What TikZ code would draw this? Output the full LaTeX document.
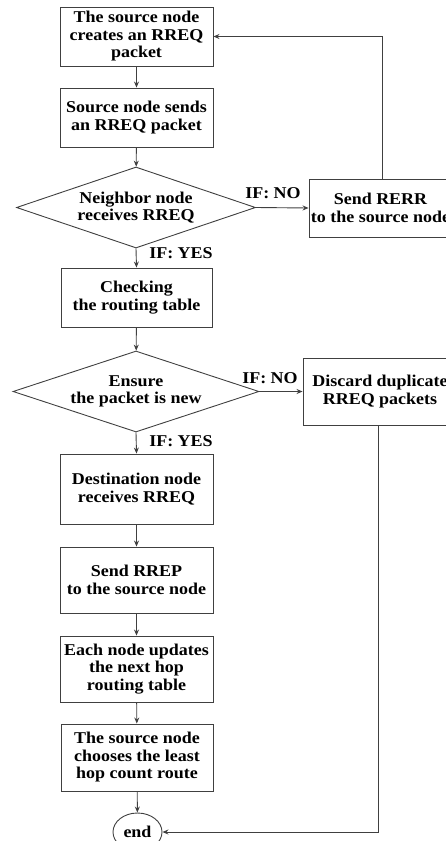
\documentclass[tikz,border=0pt]{standalone}
\usepackage{fontspec}
\setmainfont{Liberation Serif}[FakeStretch=1.09]
\usetikzlibrary{shapes.geometric,arrows.meta}
\begin{document}
\begin{tikzpicture}[x=1pt,y=-1pt,
  every node/.style={font=\bfseries\fontsize{16.5}{17.5}\selectfont, text=black},
  stepbox/.style={draw=black!75, line width=0.9pt, rectangle, inner sep=0pt, align=center},
  decide/.style={draw=black!75, line width=0.9pt, diamond, inner sep=0pt},
  lbl/.style={inner sep=0pt, align=center},
  conn/.style={draw=black!75, line width=0.9pt, -{Stealth[length=6pt,width=5pt]}},
  seg/.style={draw=black!75, line width=0.9pt}]
\useasboundingbox (0,0) rectangle (445,841);
\node[stepbox, minimum width=153pt, minimum height=59pt] (b1) at (136.5,36.5) {The source node\\creates an RREQ\\packet};
\node[stepbox, minimum width=153pt, minimum height=59pt] (b2) at (136.5,117.5) {Source node sends\\an RREQ packet};
\node[decide, minimum width=239pt, minimum height=81pt] (d1) at (136,207.5) {};
\node[lbl] (d1t) at (136,207.5) {Neighbor node\\receives RREQ};
\node[stepbox, minimum width=143pt, minimum height=58pt] (rerr) at (380.5,208) {Send RERR\\to the source node};
\node[stepbox, minimum width=151pt, minimum height=59pt] (b3) at (136.5,297.5) {Checking\\the routing table};
\node[decide, minimum width=246pt, minimum height=81pt] (d2) at (136,391.5) {};
\node[lbl] (d2t) at (136,391.5) {Ensure\\the packet is new};
\node[stepbox, minimum width=154pt, minimum height=67pt] (disc) at (380,391.5) {Discard duplicate\\RREQ packets};
\node[stepbox, minimum width=153pt, minimum height=70pt] (b4) at (136.5,489) {Destination node\\receives RREQ};
\node[stepbox, minimum width=153pt, minimum height=66pt] (b5) at (136.5,580) {Send RREP\\to the source node};
\node[stepbox, minimum width=153pt, minimum height=66pt] (b6) at (136.5,669) {Each node updates\\the next hop\\routing table};
\node[stepbox, minimum width=152pt, minimum height=67pt] (b7) at (137,757.5) {The source node\\chooses the least\\hop count route};
\node[draw=black!75, line width=0.9pt, ellipse, inner sep=0pt, minimum width=49pt, minimum height=38pt] (end) at (137.5,832) {end};
\node[lbl] (no1) at (273,193) {IF: NO};
\node[lbl] (no2) at (270,378) {IF: NO};
\node[lbl] (yes1) at (181,253) {IF: YES};
\node[lbl] (yes2) at (181,441) {IF: YES};
\draw[conn] (b1) -- (b2);
\draw[conn] (b2) -- (d1);
\draw[conn] (d1.east) -- (rerr.west);
\draw[conn] (d1.south) -- (b3.north);
\draw[conn] (b3) -- (d2);
\draw[conn] (d2.east) -- (disc.west);
\draw[conn] (d2.south) -- (b4.north);
\draw[conn] (b4) -- (b5);
\draw[conn] (b5) -- (b6);
\draw[conn] (b6) -- (b7);
\draw[conn] (b7) -- (end);
\draw[conn] ([xshift=1.5pt]rerr.north) |- (b1.east);
\draw[conn] ([xshift=-2pt]disc.south) |- (end.east);
\end{tikzpicture}
\end{document}
